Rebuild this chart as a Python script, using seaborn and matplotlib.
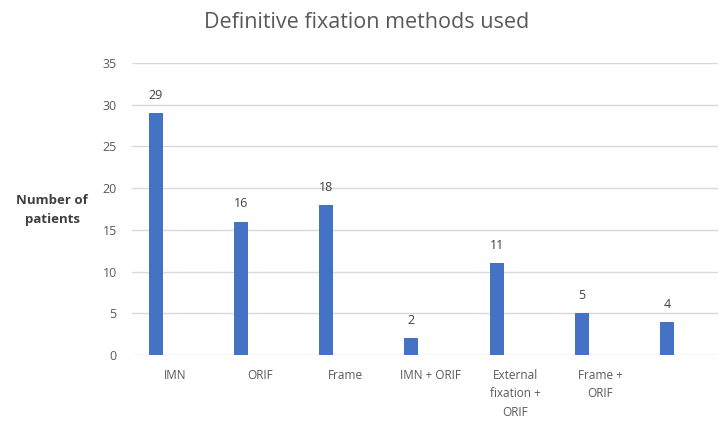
import matplotlib
matplotlib.use("Agg")
import matplotlib.pyplot as plt
import seaborn as sns
import numpy as np
import pandas as pd

# Fixation methods and patient counts
methods = ["IMN", "ORIF", "Frame", "IMN + ORIF",
           "External\nfixation +\nORIF", "Frame +\nORIF", ""]
patients = [29, 16, 18, 2, 11, 5, 4]
y_ticks = [0, 5, 10, 15, 20, 25, 30, 35]

df = pd.DataFrame({"method": [f"m{i}" for i in range(len(methods))],
                   "patients": patients})

sns.set_theme(style="white")
plt.rcParams["font.family"] = ["Open Sans", "DejaVu Sans"]

fig = plt.figure(figsize=(7.18, 4.21), dpi=100)
ax = fig.add_axes([132 / 718, 66 / 421, 1 - 132 / 718, 292 / 421])

sns.barplot(data=df, x="method", y="patients", color="#4472C4",
            saturation=1, width=0.165, linewidth=0, ax=ax, zorder=3)

ax.set_ylim(0, 35)
ax.set_xlim(-0.282, 6.6)
ax.set_yticks(y_ticks)
ax.yaxis.grid(True, color="#d9d9d9", linewidth=1, zorder=0)
ax.set_axisbelow(True)
for s in ax.spines.values():
    s.set_visible(False)

ax.set_xticks(np.arange(len(methods)) + 0.22)
ax.set_xticklabels(methods, fontsize=8.5, color="#595959", va="top")
for lbl in ax.get_xticklabels():
    lbl.set_linespacing(1.55)
ax.tick_params(axis="x", length=0, pad=10)
ax.tick_params(axis="y", length=0, labelsize=9, labelcolor="#595959", pad=11)

ax.set_xlabel("")
ax.set_ylabel("")
fig.text(52 / 718, 1 - 210 / 421, "Number of\npatients", ha="center",
         va="center", fontsize=9.5, fontweight="bold", color="#404040",
         linespacing=1.5)

for c in ax.containers:
    ax.bar_label(c, labels=[str(v) for v in patients], padding=8,
                 fontsize=9, color="#404040")

fig.text(367 / 718, 1 - 22 / 421, "Definitive fixation methods used",
         ha="center", va="center", fontsize=15.5, color="#595959")

fig.savefig("out.png", dpi=100)
